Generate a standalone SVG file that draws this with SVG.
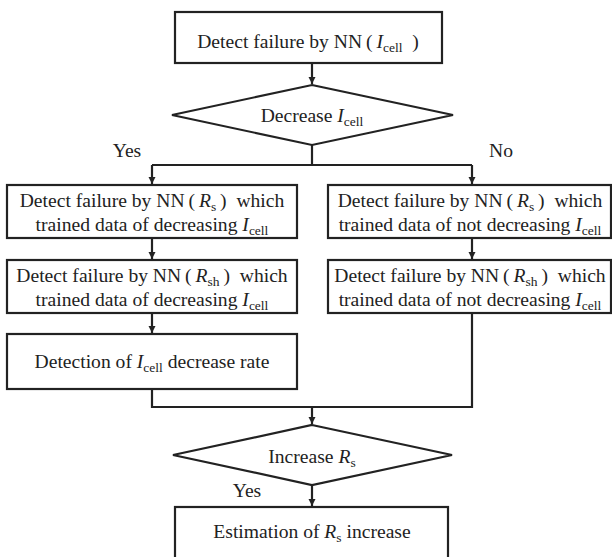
<svg xmlns="http://www.w3.org/2000/svg" width="612" height="557" viewBox="0 0 612 557">
<style>
.box{fill:#fff;stroke:#222;stroke-width:2.2}
.t{font-family:"Liberation Serif","Times New Roman",serif;font-size:19.6px;fill:#222;text-anchor:middle}
.i{font-style:italic}
.s{font-size:13.5px}
.c{stroke:#222;stroke-width:2.2;fill:none}
</style>
<defs>
<marker id="ah" markerWidth="8" markerHeight="8" refX="7" refY="4" orient="auto" markerUnits="userSpaceOnUse">
<path d="M0,0.5 L7,4 L0,7.5 Z" fill="#222"/>
</marker>
</defs>
<rect width="612" height="557" fill="#fff"/>
<g id="connectors">
<line class="c" x1="312" y1="63" x2="312" y2="84" marker-end="url(#ah)"/>
<polyline class="c" points="312,145 312,165"/>
<polyline class="c" points="152,165 472,165"/>
<line class="c" x1="152" y1="165" x2="152" y2="184" marker-end="url(#ah)"/>
<line class="c" x1="472" y1="165" x2="472" y2="184" marker-end="url(#ah)"/>
<line class="c" x1="152" y1="238" x2="152" y2="259" marker-end="url(#ah)"/>
<line class="c" x1="472" y1="238" x2="472" y2="259" marker-end="url(#ah)"/>
<line class="c" x1="152" y1="313" x2="152" y2="333" marker-end="url(#ah)"/>
<polyline class="c" points="152,389 152,407 472,407 472,313"/>
<line class="c" x1="312" y1="407" x2="312" y2="424" marker-end="url(#ah)"/>
<line class="c" x1="312" y1="485" x2="312" y2="506" marker-end="url(#ah)"/>
</g>
<g id="n1">
<rect class="box" x="175" y="12" width="267" height="51"/>
<text class="t" x="308" y="48">Detect failure by NN&#8201;(&#8201;<tspan class="i">I</tspan><tspan class="s" dy="4">cell</tspan><tspan dy="-4">&#8194;)</tspan></text>
</g>
<g id="d1">
<polygon class="box" points="312,85 453,115 312,145 172,115"/>
<text class="t" x="312" y="122">Decrease <tspan class="i">I</tspan><tspan class="s" dy="4">cell</tspan></text>
</g>
<g id="yes1"><text class="t" x="127" y="157">Yes</text></g>
<g id="no1"><text class="t" x="501" y="157">No</text></g>
<g id="l1">
<rect class="box" x="7" y="185" width="290" height="53"/>
<text class="t" x="152" y="207">Detect failure by NN&#8201;(&#8201;<tspan class="i">R</tspan><tspan class="s" dy="4">s</tspan><tspan dy="-4">&#8201;)&#8194;which</tspan></text>
<text class="t" x="152" y="231">trained data of decreasing <tspan class="i">I</tspan><tspan class="s" dy="4">cell</tspan></text>
</g>
<g id="l2">
<rect class="box" x="7" y="260" width="290" height="53"/>
<text class="t" x="152" y="282">Detect failure by NN&#8201;(&#8201;<tspan class="i">R</tspan><tspan class="s" dy="4">sh</tspan><tspan dy="-4">&#8201;)&#8194;which</tspan></text>
<text class="t" x="152" y="306">trained data of decreasing <tspan class="i">I</tspan><tspan class="s" dy="4">cell</tspan></text>
</g>
<g id="l3">
<rect class="box" x="7" y="334" width="290" height="55"/>
<text class="t" x="152" y="368">Detection of <tspan class="i">I</tspan><tspan class="s" dy="4">cell</tspan><tspan dy="-4"> decrease rate</tspan></text>
</g>
<g id="r1">
<rect class="box" x="328" y="185" width="283" height="53"/>
<text class="t" x="470" y="207">Detect failure by NN&#8201;(&#8201;<tspan class="i">R</tspan><tspan class="s" dy="4">s</tspan><tspan dy="-4">&#8201;)&#8194;which</tspan></text>
<text class="t" x="470" y="231">trained data of not decreasing <tspan class="i">I</tspan><tspan class="s" dy="4">cell</tspan></text>
</g>
<g id="r2">
<rect class="box" x="328" y="260" width="283" height="53"/>
<text class="t" x="470" y="282">Detect failure by NN&#8201;(&#8201;<tspan class="i">R</tspan><tspan class="s" dy="4">sh</tspan><tspan dy="-4">&#8201;)&#8194;which</tspan></text>
<text class="t" x="470" y="306">trained data of not decreasing <tspan class="i">I</tspan><tspan class="s" dy="4">cell</tspan></text>
</g>
<g id="d2">
<polygon class="box" points="312,425 452,455 312,485 173,455"/>
<text class="t" x="312" y="463">Increase <tspan class="i">R</tspan><tspan class="s" dy="4">s</tspan></text>
</g>
<g id="yes2"><text class="t" x="247" y="497">Yes</text></g>
<g id="n2">
<rect class="box" x="175" y="507" width="273" height="70"/>
<text class="t" x="312" y="538">Estimation of <tspan class="i">R</tspan><tspan class="s" dy="4">s</tspan><tspan dy="-4"> increase</tspan></text>
</g>
</svg>
